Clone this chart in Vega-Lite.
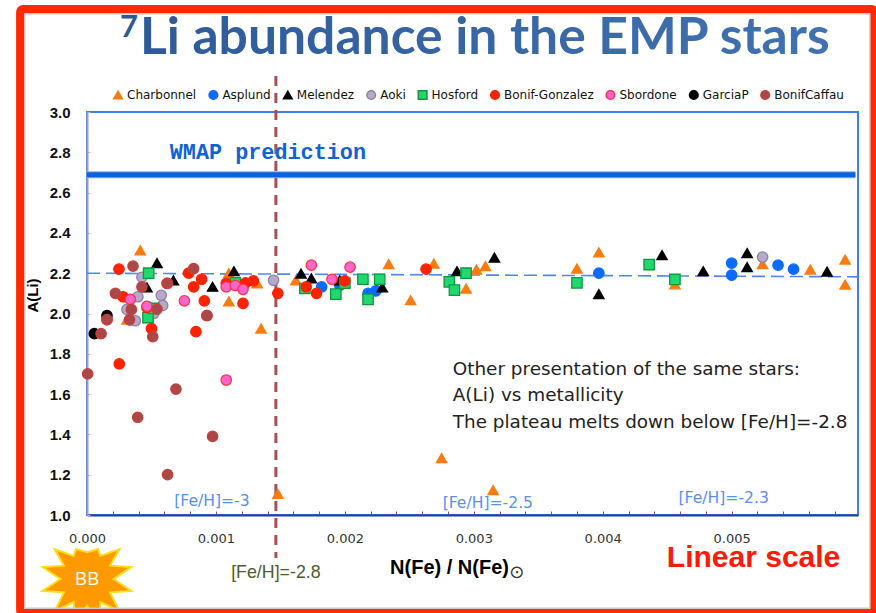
{
"$schema":"https://vega.github.io/schema/vega-lite/v6.json",
"width":771,"height":403,"autosize":"none","padding":{"left":87,"top":112,"right":18,"bottom":98},
"background":"white",
"config":{"view":{"stroke":"#3a7ff0","strokeWidth":2}},
"encoding":{
 "x":{"field":"fe","type":"quantitative","scale":{"domain":[0,0.00598],"nice":false,"zero":false},
  "axis":{"title":"N(Fe) / N(Fe)","titleFont":"Liberation Sans","titleFontWeight":"bold","titleFontSize":20,"titleColor":"#000","titleX":362,"titleY":42,
   "values":[0,0.0002,0.0004,0.0006,0.0008,0.001,0.0012,0.0014,0.0016,0.0018,0.002,0.0022,0.0024,0.0026,0.0028,0.003,0.0032,0.0034,0.0036,0.0038,0.004,0.0042,0.0044,0.0046,0.0048,0.005,0.0052,0.0054,0.0056,0.0058],
   "labelExpr":"abs(datum.value*1000-round(datum.value*1000))<0.001 ? format(datum.value,'.3f') : ''",
   "labelFont":"DejaVu Sans","labelFontSize":13,"labelColor":"#333","labelPadding":21,"labelOverlap":false,"labelBound":false,"labelFlush":false,
   "domainColor":"#22408c","domainWidth":2,"tickColor":"#667","tickSize":-4,"tickWidth":1,"grid":false}},
 "y":{"field":"ali","type":"quantitative","scale":{"domain":[1,3],"nice":false,"zero":false},
  "axis":{"title":"A(Li)","titleFont":"Liberation Sans","titleFontWeight":"bold","titleFontSize":15,"titleColor":"#000","titleX":-47,"titleY":183,
   "values":[1,1.2,1.4,1.6,1.8,2,2.2,2.4,2.6,2.8,3],"format":".1f",
   "labelFont":"Liberation Sans","labelFontWeight":"bold","labelFontSize":15,"labelColor":"#111","labelPadding":20,"labelOverlap":false,
   "domainColor":"#9a9ad6","domainWidth":2,"tickColor":"#bbb","tickSize":-3,"tickWidth":1,"grid":false}}
},
"layer":[
 {"data":{"values":[{"fe":0,"ali":0.6824}]},
  "mark":{"type":"point","filled":true,"fill":"#ff9900","stroke":"#f7e01c","strokeWidth":2,"opacity":1,"size":8464,
   "shape":"M .58 0 L .966 .259 L .502 .29 L .707 .707 L .29 .502 L .259 .966 L 0 .58 L -.259 .966 L -.29 .502 L -.707 .707 L -.502 .29 L -.966 .259 L -.58 0 L -.966 -.259 L -.502 -.29 L -.707 -.65 L -.29 -.502 L -.24 -.65 L 0 -.58 L .24 -.65 L .29 -.502 L .707 -.65 L .502 -.29 L .966 -.259 Z"}},
 {"data":{"values":[{"fe":0,"ali":0.6824,"label":"BB"}]},
  "mark":{"type":"text","font":"Open Sans","fontSize":19,"color":"white"},"encoding":{"text":{"field":"label"}}},
 {"data":{"values":[{"fe":0,"ali":2.2},{"fe":0.00598,"ali":2.182}]},
  "mark":{"type":"line","color":"#4d88f0","strokeWidth":1.6,"strokeDash":[13,6]}},
 {"data":{"values":[{"fe":0,"ali":2.689},{"fe":0.00596,"ali":2.689}]},
  "mark":{"type":"line","color":"#8cb0ee","strokeWidth":7}},
 {"data":{"values":[{"fe":0,"ali":2.689},{"fe":0.00596,"ali":2.689}]},
  "mark":{"type":"line","color":"#0a63dc","strokeWidth":5}},
 {"data":{"values":[{"fe":0.001465,"ali":3.179,"ali2":0.7866}]},
  "mark":{"type":"rule","color":"#a85050","strokeWidth":3,"strokeDash":[10,7]},"encoding":{"y2":{"field":"ali2"}}},
 {"data":{"values":[
  {"series":"Charbonnel","fe":0.000413,"ali":2.314},{"series":"Charbonnel","fe":0.00031,"ali":1.97},{"series":"Charbonnel","fe":0.0011,"ali":2.06},{"series":"Charbonnel","fe":0.0011,"ali":2.2},{"series":"Charbonnel","fe":0.00132,"ali":2.15},{"series":"Charbonnel","fe":0.00135,"ali":1.925},{"series":"Charbonnel","fe":0.00162,"ali":2.165},{"series":"Charbonnel","fe":0.00234,"ali":2.245},{"series":"Charbonnel","fe":0.00269,"ali":2.248},{"series":"Charbonnel","fe":0.00251,"ali":2.066},{"series":"Charbonnel","fe":0.00225,"ali":2.13},{"series":"Charbonnel","fe":0.00148,"ali":1.105},{"series":"Charbonnel","fe":0.00275,"ali":1.283},{"series":"Charbonnel","fe":0.00315,"ali":1.124},{"series":"Charbonnel","fe":0.00294,"ali":2.124},{"series":"Charbonnel","fe":0.00302,"ali":2.218},{"series":"Charbonnel","fe":0.00309,"ali":2.235},{"series":"Charbonnel","fe":0.0038,"ali":2.223},{"series":"Charbonnel","fe":0.00397,"ali":2.304},{"series":"Charbonnel","fe":0.00456,"ali":2.145},{"series":"Charbonnel","fe":0.00524,"ali":2.245},{"series":"Charbonnel","fe":0.00561,"ali":2.218},{"series":"Charbonnel","fe":0.00588,"ali":2.268},{"series":"Charbonnel","fe":0.00588,"ali":2.144},
  {"series":"Asplund","fe":0.00182,"ali":2.132},{"series":"Asplund","fe":0.00196,"ali":2.14},{"series":"Asplund","fe":0.00218,"ali":2.10},{"series":"Asplund","fe":0.00224,"ali":2.112},{"series":"Asplund","fe":0.00397,"ali":2.2},{"series":"Asplund","fe":0.005,"ali":2.25},{"series":"Asplund","fe":0.005,"ali":2.19},{"series":"Asplund","fe":0.00536,"ali":2.24},{"series":"Asplund","fe":0.00548,"ali":2.22},
  {"series":"Melendez","fe":0.000543,"ali":2.25},{"series":"Melendez","fe":0.00067,"ali":2.165},{"series":"Melendez","fe":0.000465,"ali":2.13},{"series":"Melendez","fe":0.000974,"ali":2.133},{"series":"Melendez","fe":0.00114,"ali":2.21},{"series":"Melendez","fe":0.00166,"ali":2.198},{"series":"Melendez","fe":0.00174,"ali":2.175},{"series":"Melendez","fe":0.00196,"ali":2.165},{"series":"Melendez","fe":0.00229,"ali":2.13},{"series":"Melendez","fe":0.00287,"ali":2.21},{"series":"Melendez","fe":0.00316,"ali":2.278},{"series":"Melendez","fe":0.00397,"ali":2.096},{"series":"Melendez","fe":0.00446,"ali":2.29},{"series":"Melendez","fe":0.00478,"ali":2.21},{"series":"Melendez","fe":0.00512,"ali":2.30},{"series":"Melendez","fe":0.00512,"ali":2.23},{"series":"Melendez","fe":0.00574,"ali":2.208},
  {"series":"Aoki","fe":0.000426,"ali":2.18},{"series":"Aoki","fe":0.000395,"ali":2.083},{"series":"Aoki","fe":0.00031,"ali":2.02},{"series":"Aoki","fe":0.000336,"ali":1.967},{"series":"Aoki","fe":0.000375,"ali":1.964},{"series":"Aoki","fe":0.000576,"ali":2.09},{"series":"Aoki","fe":0.000587,"ali":2.04},{"series":"Aoki","fe":0.000517,"ali":2.0},{"series":"Aoki","fe":0.001447,"ali":2.165},{"series":"Aoki","fe":0.00524,"ali":2.28},
  {"series":"Hosford","fe":0.000478,"ali":2.2},{"series":"Hosford","fe":0.000473,"ali":1.98},{"series":"Hosford","fe":0.000517,"ali":2.025},{"series":"Hosford","fe":0.00115,"ali":2.152},{"series":"Hosford","fe":0.00169,"ali":2.124},{"series":"Hosford","fe":0.00193,"ali":2.096},{"series":"Hosford","fe":0.002,"ali":2.15},{"series":"Hosford","fe":0.00214,"ali":2.17},{"series":"Hosford","fe":0.00227,"ali":2.17},{"series":"Hosford","fe":0.00218,"ali":2.07},{"series":"Hosford","fe":0.00281,"ali":2.157},{"series":"Hosford","fe":0.00285,"ali":2.116},{"series":"Hosford","fe":0.00294,"ali":2.2},{"series":"Hosford","fe":0.0038,"ali":2.152},{"series":"Hosford","fe":0.00436,"ali":2.243},{"series":"Hosford","fe":0.00456,"ali":2.169},
  {"series":"Bonif-Gonzalez","fe":0.000248,"ali":2.22},{"series":"Bonif-Gonzalez","fe":0.00028,"ali":2.083},{"series":"Bonif-Gonzalez","fe":0.00062,"ali":2.15},{"series":"Bonif-Gonzalez","fe":0.000788,"ali":2.2},{"series":"Bonif-Gonzalez","fe":0.000827,"ali":2.132},{"series":"Bonif-Gonzalez","fe":0.000889,"ali":2.17},{"series":"Bonif-Gonzalez","fe":0.00091,"ali":2.063},{"series":"Bonif-Gonzalez","fe":0.000845,"ali":1.91},{"series":"Bonif-Gonzalez","fe":0.00093,"ali":1.99},{"series":"Bonif-Gonzalez","fe":0.00108,"ali":2.15},{"series":"Bonif-Gonzalez","fe":0.00121,"ali":2.05},{"series":"Bonif-Gonzalez","fe":0.00123,"ali":2.152},{"series":"Bonif-Gonzalez","fe":0.00129,"ali":2.162},{"series":"Bonif-Gonzalez","fe":0.00148,"ali":2.1},{"series":"Bonif-Gonzalez","fe":0.0017,"ali":2.132},{"series":"Bonif-Gonzalez","fe":0.00178,"ali":2.1},{"series":"Bonif-Gonzalez","fe":0.002,"ali":2.162},{"series":"Bonif-Gonzalez","fe":0.00263,"ali":2.22},{"series":"Bonif-Gonzalez","fe":0.000465,"ali":2.03},{"series":"Bonif-Gonzalez","fe":0.0005,"ali":1.925},{"series":"Bonif-Gonzalez","fe":0.00025,"ali":1.75},{"series":"Bonif-Gonzalez","fe":0.000155,"ali":1.97},
  {"series":"Sbordone","fe":0.000336,"ali":2.07},{"series":"Sbordone","fe":0.000465,"ali":2.036},{"series":"Sbordone","fe":0.000755,"ali":2.063},{"series":"Sbordone","fe":0.00108,"ali":2.132},{"series":"Sbordone","fe":0.00115,"ali":2.139},{"series":"Sbordone","fe":0.00121,"ali":2.12},{"series":"Sbordone","fe":0.00174,"ali":2.24},{"series":"Sbordone","fe":0.0019,"ali":2.17},{"series":"Sbordone","fe":0.00204,"ali":2.23},{"series":"Sbordone","fe":0.00108,"ali":1.67},
  {"series":"GarciaP","fe":0.000057,"ali":1.9},{"series":"GarciaP","fe":0.000155,"ali":1.99},
  {"series":"BonifCaffau","fe":0.000357,"ali":2.235},{"series":"BonifCaffau","fe":0.00022,"ali":2.1},{"series":"BonifCaffau","fe":0.000426,"ali":2.132},{"series":"BonifCaffau","fe":0.000625,"ali":2.15},{"series":"BonifCaffau","fe":0.000827,"ali":2.223},{"series":"BonifCaffau","fe":0.000344,"ali":2.02},{"series":"BonifCaffau","fe":0.00033,"ali":1.97},{"series":"BonifCaffau","fe":0.000155,"ali":1.97},{"series":"BonifCaffau","fe":0.000109,"ali":1.9},{"series":"BonifCaffau","fe":0.00051,"ali":1.885},{"series":"BonifCaffau","fe":0.000543,"ali":2.022},{"series":"BonifCaffau","fe":0.00093,"ali":1.99},{"series":"BonifCaffau","fe":0.000005,"ali":1.7},{"series":"BonifCaffau","fe":0.000393,"ali":1.485},{"series":"BonifCaffau","fe":0.00069,"ali":1.625},{"series":"BonifCaffau","fe":0.000974,"ali":1.39},{"series":"BonifCaffau","fe":0.000625,"ali":1.2}
  ]},
  "mark":{"type":"point","filled":true,"opacity":1,"size":108,"strokeWidth":1.3},
  "encoding":{
   "fill":{"field":"series","type":"nominal","title":null,"scale":{"domain":["Charbonnel","Asplund","Melendez","Aoki","Hosford","Bonif-Gonzalez","Sbordone","GarciaP","BonifCaffau"],"range":["#fb7c0e","#0a6cff","#000000","#b7a9c9","#1fd96f","#ff2200","#ff66cc","#000000","#a84848"]},
    "legend":{"orient":"none","legendX":25,"legendY":-23,"direction":"horizontal","columns":9,"gridAlign":"none","columnPadding":8.4,"symbolSize":75,"symbolOpacity":1,"labelFont":"DejaVu Sans","labelFontSize":12,"labelColor":"#111","labelOffset":3,"labelLimit":120}},
   "stroke":{"field":"series","type":"nominal","title":null,"scale":{"domain":["Charbonnel","Asplund","Melendez","Aoki","Hosford","Bonif-Gonzalez","Sbordone","GarciaP","BonifCaffau"],"range":["#fb7c0e","#0a6cff","#000000","#8f80a8","#0d9a3d","#ff2200","#ff3344","#000000","#c8403a"]}},
   "shape":{"field":"series","type":"nominal","title":null,"scale":{"domain":["Charbonnel","Asplund","Melendez","Aoki","Hosford","Bonif-Gonzalez","Sbordone","GarciaP","BonifCaffau"],"range":["triangle-up","circle","triangle-up","circle","square","circle","circle","circle","circle"]}}
  }},
 {"data":{"values":[{"fe":-0.000484,"ali":3.489,"fe2":0.006074,"ali2":0.536}]},
  "mark":{"type":"rect","fillOpacity":0,"stroke":"#cccccc","strokeWidth":2},"encoding":{"x2":{"field":"fe2"},"y2":{"field":"ali2"}}},
 {"data":{"values":[{"fe":-0.000519,"ali":3.511,"fe2":0.006109,"ali2":0.5136}]},
  "mark":{"type":"rect","fillOpacity":0,"stroke":"#ff2a00","strokeWidth":8,"cornerRadius":3},"encoding":{"x2":{"field":"fe2"},"y2":{"field":"ali2"}}},
 {"data":{"values":[{"fe":0.000411,"ali":3.288,"label":"Li abundance in the EMP stars"}]},
  "mark":{"type":"text","font":"Lato","fontWeight":"bold","fontSize":51.6,"align":"left","baseline":"alphabetic",
   "fill":{"x1":0,"y1":0,"x2":1,"y2":0,"gradient":"linear","stops":[{"offset":0,"color":"#2e5a9a"},{"offset":1,"color":"#4172b0"}]}},"encoding":{"text":{"field":"label"}}},
 {"data":{"values":[{"fe":0.000256,"ali":3.372,"label":"7"}]},
  "mark":{"type":"text","font":"Lato","fontWeight":"bold","fontSize":31,"align":"left","baseline":"alphabetic","color":"#2e5a9a"},"encoding":{"text":{"field":"label"}}},
 {"data":{"values":[{"fe":0.001403,"ali":2.801,"label":"WMAP prediction"}]},
  "mark":{"type":"text","font":"Liberation Mono","fontWeight":"bold","fontSize":21.8,"color":"#0f63d6"},"encoding":{"text":{"field":"label"}}},
 {"data":{"values":[{"fe":0.002837,"ali":1.7246,"label":"Other presentation of the same stars:"},{"fe":0.002837,"ali":1.5955,"label":"A(Li) vs metallicity"},{"fe":0.002837,"ali":1.4615,"label":"The plateau melts down below [Fe/H]=-2.8"}]},
  "mark":{"type":"text","font":"DejaVu Sans","fontSize":18.4,"align":"left","color":"#222"},"encoding":{"text":{"field":"label"}}},
 {"data":{"values":[{"fe":0.000969,"ali":1.0695,"label":"[Fe/H]=-3"},{"fe":0.003109,"ali":1.0596,"label":"[Fe/H]=-2.5"},{"fe":0.004938,"ali":1.0844,"label":"[Fe/H]=-2.3"}]},
  "mark":{"type":"text","font":"DejaVu Sans","fontSize":15.6,"color":"#5a8ff0"},"encoding":{"text":{"field":"label"}}},
 {"data":{"values":[{"fe":0.001465,"ali":0.7122,"label":"[Fe/H]=-2.8"}]},
  "mark":{"type":"text","font":"Liberation Sans","fontSize":17.8,"color":"#4f5b2e"},"encoding":{"text":{"field":"label"}}},
 {"data":{"values":[{"fe":0.003333,"ali":0.7122,"label":"⊙"}]},
  "mark":{"type":"text","font":"DejaVu Sans","fontSize":18,"color":"#333"},"encoding":{"text":{"field":"label"}}},
 {"data":{"values":[{"fe":0.00517,"ali":0.7866,"label":"Linear scale"}]},
  "mark":{"type":"text","font":"Liberation Sans","fontWeight":"bold","fontSize":30,"color":"#ff1a0a"},"encoding":{"text":{"field":"label"}}}
]
}
